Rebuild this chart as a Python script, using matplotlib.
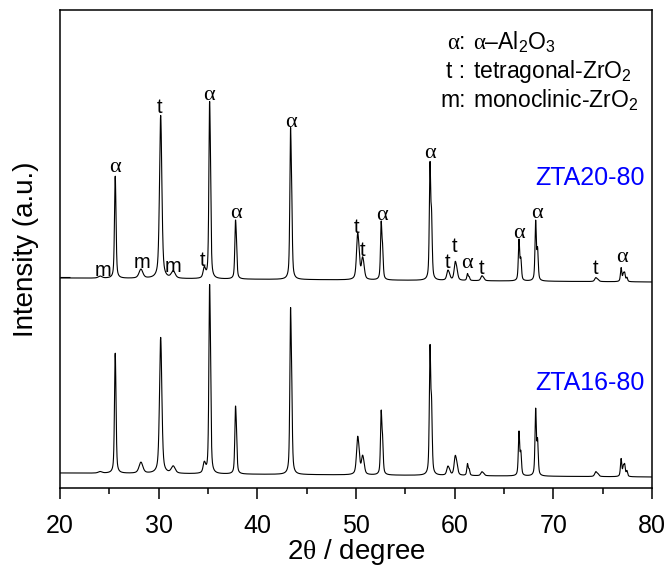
import numpy as np
import matplotlib
matplotlib.use('Agg')
import matplotlib.pyplot as plt
from matplotlib.ticker import MultipleLocator

plt.rcParams['font.family'] = ['Liberation Sans', 'DejaVu Sans']
plt.rcParams['mathtext.fontset'] = 'custom'
plt.rcParams['mathtext.rm'] = 'Liberation Sans'
plt.rcParams['mathtext.it'] = 'Liberation Serif'
plt.rcParams['mathtext.default'] = 'regular'

# ---- data (2theta in degree, intensity in a.u.) ----
peak_pos = [24.05, 25.58, 28.18, 30.18, 31.45, 34.60, 35.15, 37.78, 43.36,
            50.15, 50.65, 52.55, 57.50, 59.30, 60.05, 61.30, 62.75, 66.52,
            68.21, 74.30, 76.87, 77.23]
peak_phase = ['m', 'a', 'm', 't', 'm', 't', 'a', 'a', 'a',
              't', 't', 'a', 'a', 't', 't', 'a', 't', 'a',
              'a', 't', 'a', 'a']
phase_fwhm = {'a': 0.16, 't': 0.26, 'm': 0.45}

zta20_heights = [2, 102, 9, 163, 7, 10, 177, 59, 152,
                 46, 21, 59, 119, 10, 19, 7, 5, 42,
                 61, 4, 14, 8]
zta16_heights = [1.5, 120, 11, 136, 7, 10, 189, 68, 167,
                 38, 18, 65, 131, 9, 20, 12, 4, 45,
                 68, 5, 18, 11]
zta20_baseline = [210, 206]   # at 20 deg and 80 deg
zta16_baseline = [15, 11]

sample_names = ['ZTA20-80', 'ZTA16-80']
sample_label_y = [310, 105]

# peak labels of the upper pattern
label_x = [24.33, 28.28, 31.45, 34.46, 25.57, 30.14, 35.10, 37.80, 43.38,
           50.10, 50.68, 52.60, 57.50, 59.30, 60.03, 61.25, 62.77, 66.55,
           68.30, 74.30, 76.93]
label_y = [217, 225, 221, 228, 321, 381, 393, 275, 366,
           261, 238, 273, 335, 226, 241, 225, 220, 255,
           275, 220, 230]
label_txt = ['m', 'm', 'm', 't', 'a', 't', 'a', 'a', 'a',
             't', 't', 'a', 'a', 't', 't', 'a', 't', 'a',
             'a', 't', 'a']

legend_keys = [r'$\mathit{\alpha}$:', 't :', 'm:']
legend_desc = [r'$\mathit{\alpha}$–Al$_2$O$_3$', 'tetragonal-ZrO$_2$', 'monoclinic-ZrO$_2$']
legend_y = [439, 410, 381]

x_ticks = [20, 30, 40, 50, 60, 70, 80]

# ---- build the profiles from the peak list ----
x = np.linspace(20, 80, 6001)
lam_ratio = 1.54439 / 1.54056


def pv(xx, c, w, eta=0.55):
    g = np.exp(-4 * np.log(2) * ((xx - c) / w) ** 2)
    l = 1.0 / (1.0 + 4 * ((xx - c) / w) ** 2)
    return eta * l + (1 - eta) * g


def pattern(heights, base):
    y = base[0] + (base[1] - base[0]) * (x - 20) / 60.0
    for p, ph, h in zip(peak_pos, peak_phase, heights):
        w = phase_fwhm[ph]
        th = np.radians(p / 2)
        p2 = 2 * np.degrees(np.arcsin(min(lam_ratio * np.sin(th), 1.0)))
        prof = pv(x, p, w) + 0.5 * pv(x, p2, w)
        y = y + h * prof / prof.max()
    return y


fig = plt.figure(figsize=(6.7, 5.73), dpi=100)
ax = fig.add_axes([60 / 670, 85 / 573, 592 / 670, 478 / 573])

for heights, base in [(zta20_heights, zta20_baseline), (zta16_heights, zta16_baseline)]:
    ax.plot(x, pattern(heights, base), color='black', lw=0.8)

ax.set_xlim(20, 80)
ax.set_ylim(0, 478)
ax.set_xticks(x_ticks)
ax.xaxis.set_minor_locator(MultipleLocator(5))
ax.tick_params(axis='x', which='major', direction='out', length=8, width=1.1,
               labelsize=18, pad=11)
ax.tick_params(axis='x', which='minor', direction='out', length=4.5, width=1.1)
ax.set_yticks([211])
ax.tick_params(axis='y', direction='in', length=7, width=0.8, labelleft=False)
for s in ax.spines.values():
    s.set_linewidth(1.1)

ax.set_xlabel(r'2$\mathit{\theta}$ / degree', fontsize=20, labelpad=-1)
ax.set_ylabel('Intensity (a.u.)', fontsize=20, labelpad=15)

for lx, ly, t in zip(label_x, label_y, label_txt):
    if t == 'a':
        ax.text(lx, ly, 'α', family='Liberation Serif', fontsize=16,
                ha='center', va='center')
    else:
        ax.text(lx, ly, t, fontsize=14.5, ha='center', va='center')

for k, d, ly in zip(legend_keys, legend_desc, legend_y):
    ax.text(61.1, ly, k, fontsize=16.5, ha='right', va='baseline')
    ax.text(61.86, ly, d, fontsize=16.5, ha='left', va='baseline')

for name, ly in zip(sample_names, sample_label_y):
    ax.text(79.3, ly, name, fontsize=18, color='#0000ff', ha='right', va='center')

fig.savefig('out.png', dpi=100)
